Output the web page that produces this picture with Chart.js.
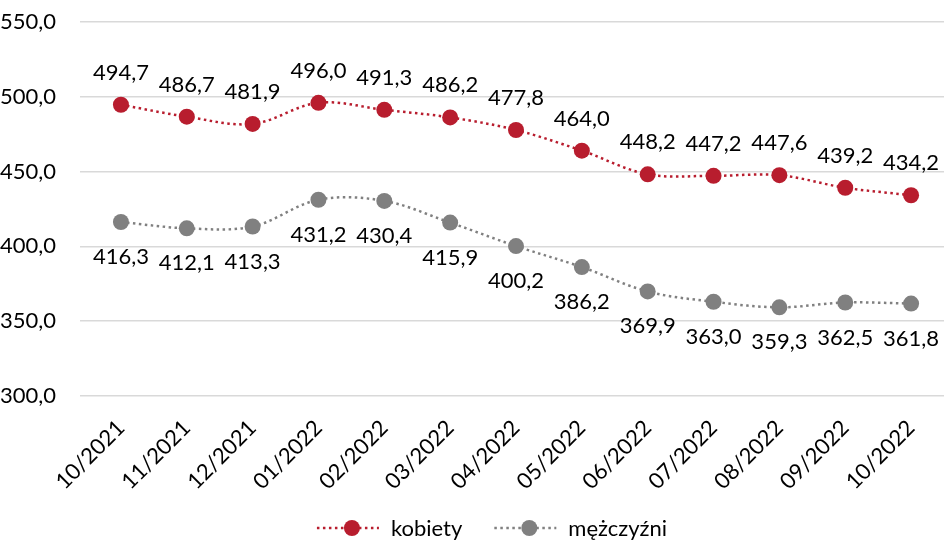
<!DOCTYPE html>
<html><head><meta charset="utf-8">
<script src="https://cdn.jsdelivr.net/npm/chart.js@4/dist/chart.umd.min.js"></script>
<style>html,body{margin:0;padding:0;background:#fff}#wrap{width:952px;height:540px}</style>
</head><body><div id="wrap"><canvas id="c"></canvas></div>
<script>
const categories = ["10/2021","11/2021","12/2021","01/2022","02/2022","03/2022","04/2022","05/2022","06/2022","07/2022","08/2022","09/2022","10/2022"];
const kobiety = [494.7,486.7,481.9,496.0,491.3,486.2,477.8,464.0,448.2,447.2,447.6,439.2,434.2];
const mezczyzni = [416.3,412.1,413.3,431.2,430.4,415.9,400.2,386.2,369.9,363.0,359.3,362.5,361.8];
const yTicks = [300,350,400,450,500,550];

const RED = '#B81D2E', GRAY = '#808080';
const FONT = 'Lato, "Open Sans", sans-serif';
const FS = 22;
const fmt = v => v.toFixed(1).replace('.', ',');

const labelPlugin = {
  id:'vals',
  afterDatasetsDraw(chart){
    const ctx = chart.ctx;
    ctx.save();
    ctx.font = FS + 'px ' + FONT;
    ctx.fillStyle = '#000';
    ctx.textAlign = 'center';
    ctx.textBaseline = 'alphabetic';
    chart.data.datasets.forEach((ds,i)=>{
      const meta = chart.getDatasetMeta(i);
      meta.data.forEach((p,j)=>{
        if(i===0) ctx.fillText(fmt(ds.data[j]), p.x, p.y-25);
        else ctx.fillText(fmt(ds.data[j]), p.x, p.y+42);
      });
    });
    ctx.restore();
  }
};

const legendPlugin = {
  id:'customLegend',
  afterDraw(chart){
    const ctx = chart.ctx;
    ctx.save();
    ctx.font = FS + 'px ' + FONT;
    const items = chart.data.datasets.map(ds=>({text:ds.label, color:ds.borderColor}));
    const iconW = 62, gapText = 12, gapItem = 32;
    const widths = items.map(it=>iconW + gapText + ctx.measureText(it.text).width);
    const total = widths.reduce((a,b)=>a+b,0) + gapItem*(items.length-1);
    let x = chart.width/2 + 16 - total/2;
    const y = 528;
    items.forEach((it,k)=>{
      ctx.strokeStyle = it.color; ctx.lineWidth = 2.5; ctx.setLineDash([2.5,3.5]);
      ctx.beginPath(); ctx.moveTo(x, y); ctx.lineTo(x+iconW, y); ctx.stroke();
      ctx.setLineDash([]);
      ctx.fillStyle = it.color; ctx.beginPath(); ctx.arc(x+35, y, 8, 0, Math.PI*2); ctx.fill();
      ctx.fillStyle = '#000'; ctx.textAlign = 'left'; ctx.textBaseline = 'middle';
      ctx.fillText(it.text, x+iconW+gapText, y+1);
      x += widths[k] + gapItem;
    });
    ctx.restore();
  }
};

new Chart(document.getElementById('c'), {
  type:'line',
  data:{
    labels: categories,
    datasets:[
      {label:'kobiety', data:kobiety, borderColor:RED, backgroundColor:RED, borderWidth:2.5, borderDash:[2.5,3.5],
       pointRadius:8, pointHoverRadius:8, pointBackgroundColor:RED, pointBorderWidth:0, tension:0.35, pointStyle:'circle'},
      {label:'mężczyźni', data:mezczyzni, borderColor:GRAY, backgroundColor:GRAY, borderWidth:2.5, borderDash:[2.5,3.5],
       pointRadius:8, pointHoverRadius:8, pointBackgroundColor:GRAY, pointBorderWidth:0, tension:0.35, pointStyle:'circle'}
    ]
  },
  options:{
    responsive:true, maintainAspectRatio:false, animation:false,
    layout:{padding:{left:0,right:0,top:22,bottom:40}},
    plugins:{ legend:{display:false}, tooltip:{enabled:false} },
    scales:{
      x:{offset:true, grid:{display:false}, border:{display:false},
         afterFit(s){ s.paddingLeft = 0; s.paddingRight = 0; s.paddingTop = 0; s.paddingBottom = 0; s.height = 104; },
         ticks:{color:'#000', font:{family:FONT,size:FS}, maxRotation:45, minRotation:45, padding:11}},
      y:{min:300, max:550, grid:{color:'#d9d9d9', lineWidth:1.5}, border:{display:false},
         afterFit(s){ s.width = 88; s.paddingTop = 0; s.paddingBottom = 0; },
         afterBuildTicks(ax){ ax.ticks = yTicks.map(v=>({value:v})); },
         ticks:{color:'#000', font:{family:FONT,size:FS}, padding:24, callback:v=>fmt(v)}}
    }
  },
  plugins:[labelPlugin, legendPlugin]
});
</script></body></html>
